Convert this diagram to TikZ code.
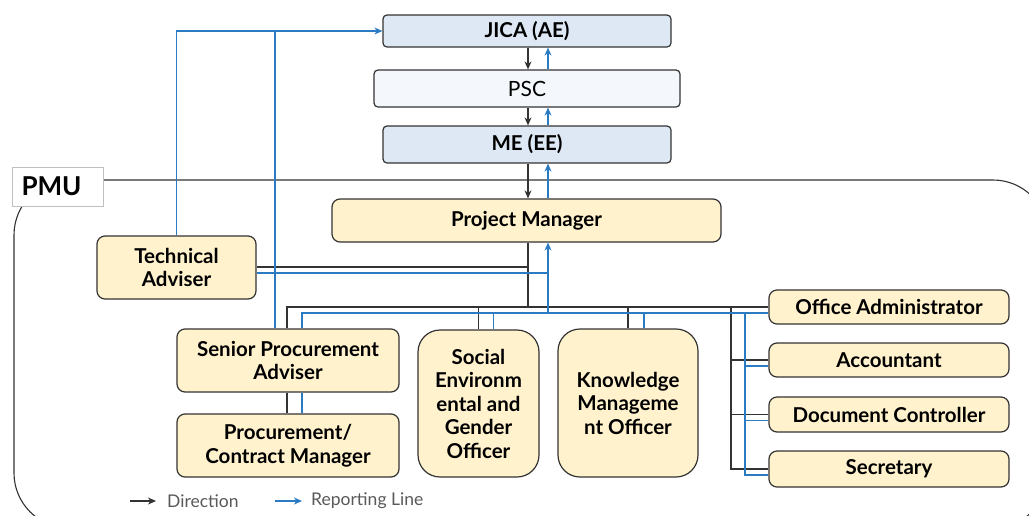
\documentclass[tikz,border=0pt]{standalone}
\usepackage{fontspec}
\setmainfont{Lato}
\usepackage{tikz}
\usetikzlibrary{arrows.meta,positioning}
\definecolor{inkx}{HTML}{333333}
\definecolor{bluex}{HTML}{2B7BC2}
\definecolor{yelbg}{HTML}{FFF2CC}
\definecolor{skybg}{HTML}{DDE8F4}
\definecolor{palebg}{HTML}{F4F8FC}
\definecolor{legx}{HTML}{595959}
\tikzset{
  box/.style={draw=inkx,line width=1.2pt,rounded corners=8pt,fill=yelbg,align=center,inner sep=2pt,font=\fontsize{20.5}{23.5}\selectfont\bfseries},
  topbox/.style={box,fill=skybg,rounded corners=4pt},
  tall/.style={box,rounded corners=22pt},
  dl/.style={inkx,line width=1.1pt},
  rl/.style={bluex,line width=1.1pt},
  da/.style={dl,-{Stealth[length=8pt,width=7pt,inset=2.5pt]}},
  ra/.style={rl,-{Stealth[length=8pt,width=7pt,inset=2.5pt]}},
  frm/.style={inkx,line width=1.1pt,rounded corners=55pt},
  leg/.style={font=\fontsize{17.5}{20}\selectfont,text=legx,inner sep=0pt,anchor=west}
}
\begin{document}
\begin{tikzpicture}[x=1pt,y=-1pt]
\useasboundingbox (0,0) rectangle (1029,515);
\clip (0,0) rectangle (1029,515);
\draw[frm] (14,180) rectangle (1048,528);
\node[draw=gray!50,fill=white,minimum width=91,minimum height=39,text width=72,align=left,font=\fontsize{26}{30}\selectfont\bfseries] (pmu) at (57.5,186.5) {PMU};

\node[topbox,minimum width=288,minimum height=32] (jica) at (527,31) {JICA (AE)};
\node[topbox,fill=palebg,minimum width=306,minimum height=37,font=\fontsize{21}{24}\selectfont] (psc) at (527,88.5) {PSC};
\node[topbox,minimum width=288,minimum height=37] (me) at (527,144.5) {ME (EE)};
\node[box,minimum width=389,minimum height=43] (pm) at (526.5,220.5) {Project Manager};
\node[box,minimum width=159,minimum height=63] (tadv) at (176.5,267.5) {Technical\\Adviser};
\node[box,minimum width=222,minimum height=63] (spa) at (288,360.5) {Senior Procurement\\Adviser};
\node[box,minimum width=222,minimum height=63] (pcm) at (288,445.5) {Procurement/\\Contract Manager};
\node[tall,minimum width=121,minimum height=147] (sego) at (478.5,403.5) {Social\\Environm\\ental and\\Gender\\Officer};
\node[tall,minimum width=140,minimum height=148] (kmo) at (628,403) {Knowledge\\Manageme\\nt Officer};
\node[box,minimum width=240,minimum height=34] (oadm) at (889,307) {Office Administrator};
\node[box,minimum width=240,minimum height=34] (acct) at (889,360) {Accountant};
\node[box,minimum width=240,minimum height=35] (dctl) at (889,414.5) {Document Controller};
\node[box,minimum width=240,minimum height=36] (secr) at (889,469) {Secretary};

\coordinate (dn) at (528,0);
\coordinate (up) at (548,0);
\coordinate (bk) at (287,307);
\coordinate (bb) at (302,313);
\coordinate (rk) at (731,307);
\coordinate (rb) at (745,313);
\coordinate (sx) at (275,0);
\coordinate (tk) at (528,267);
\coordinate (tb) at (548,273);

\draw[da] (jica.south -| dn) -- (psc.north -| dn);
\draw[da] (psc.south -| dn) -- (me.north -| dn);
\draw[da] (me.south -| dn) -- (pm.north -| dn);
\draw[ra] (psc.north -| up) -- (jica.south -| up);
\draw[ra] (me.north -| up) -- (psc.south -| up);
\draw[ra] (pm.north -| up) -- (me.south -| up);

\draw[dl] (pm.south -| dn) -- (bk -| dn);
\draw[dl] (tk -| tadv.east) -- (tk);
\draw[dl] (spa.north -| bk) |- (oadm.west);
\draw[dl] (sego.north) -- (sego.north |- bk);
\draw[dl] (kmo.north) -- (kmo.north |- bk);
\draw[dl] (rk) |- (secr.west);
\draw[dl] (acct.west) -- (acct.west -| rk);
\draw[dl] (dctl.west) -- (dctl.west -| rk);
\draw[dl] (spa.south -| bk) -- (pcm.north -| bk);

\draw[ra] (bb -| up) -- (pm.south -| up);
\draw[rl] (tb -| tadv.east) -- (tb);
\draw[rl] (spa.north -| bb) |- ([yshift=-6pt]oadm.west);
\draw[rl] ([xshift=15pt]sego.north) -- ([xshift=15pt]sego.north |- bb);
\draw[rl] ([xshift=16pt]kmo.north) -- ([xshift=16pt]kmo.north |- bb);
\draw[rl] (rb) |- ([yshift=-6pt]secr.west);
\draw[rl] ([yshift=-6pt]acct.west) -- ([yshift=-6pt]acct.west -| rb);
\draw[rl] ([yshift=-6pt]dctl.west) -- ([yshift=-6pt]dctl.west -| rb);
\draw[rl] (spa.south -| bb) -- (pcm.north -| bb);
\draw[ra] (tadv.north) |- (jica.west);
\draw[rl] (spa.north -| sx) -- (sx |- jica.west);

\node[leg] (ldir) at (167,501) {Direction};
\node[leg] (lrep) at (311,501) {Reporting Line};
\coordinate (la) at (130,501);
\coordinate (lb) at (275,501);
\draw[da] (la) -- ([xshift=-11pt]ldir.west);
\draw[ra] (lb) -- ([xshift=-9pt]lrep.west);
\end{tikzpicture}
\end{document}
